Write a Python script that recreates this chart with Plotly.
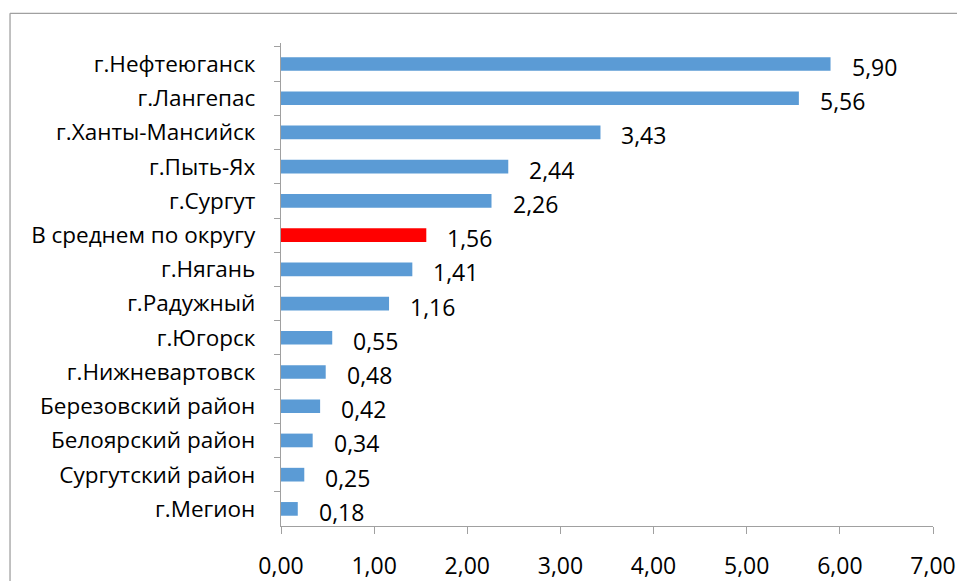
import plotly.graph_objects as go

categories = ["г.Нефтеюганск", "г.Лангепас", "г.Ханты-Мансийск", "г.Пыть-Ях", "г.Сургут",
              "В среднем по округу", "г.Нягань", "г.Радужный", "г.Югорск", "г.Нижневартовск",
              "Березовский район", "Белоярский район", "Сургутский район", "г.Мегион"]
values = [5.90, 5.56, 3.43, 2.44, 2.26, 1.56, 1.41, 1.16, 0.55, 0.48, 0.42, 0.34, 0.25, 0.18]
tick_vals = [0, 1, 2, 3, 4, 5, 6, 7]
tick_text = ["0,00", "1,00", "2,00", "3,00", "4,00", "5,00", "6,00", "7,00"]

highlight = "В среднем по округу"
colors = ["#ff0000" if c == highlight else "#5b9bd5" for c in categories]
labels = [f"{v:.2f}".replace(".", ",") for v in values]

FONT = "Open Sans"

fig = go.Figure(go.Bar(
    x=values, y=categories, orientation="h",
    marker=dict(color=colors, line=dict(width=0)),
    width=0.4,
    hoverinfo="skip",
))

for c, v, t in zip(categories, values, labels):
    fig.add_annotation(x=v, y=c, text=t, showarrow=False, xanchor="left",
                       xshift=19, yshift=-3,
                       font=dict(family=FONT, size=23, color="#000000"))

# chart-area border (only its left and top edges fall inside the picture)
fig.add_shape(type="line", xref="paper", yref="paper",
              x0=-0.4156, y0=-0.2, x1=-0.4156, y1=1.0615,
              line=dict(color="#a0a0a0", width=1.3), layer="below")
fig.add_shape(type="line", xref="paper", yref="paper",
              x0=-0.4156, y0=1.0615, x1=1.2, y1=1.0615,
              line=dict(color="#a0a0a0", width=1.3), layer="below")

fig.update_layout(
    width=957, height=581,
    margin=dict(l=281, r=24, t=43, b=55, autoexpand=False),
    paper_bgcolor="white", plot_bgcolor="white",
    showlegend=False,
    bargap=0.6,
    xaxis=dict(range=[0, 7], tickvals=tick_vals, ticktext=tick_text,
               showgrid=False, zeroline=False, showline=True,
               linecolor="#a0a0a0", linewidth=1.3,
               ticks="outside", ticklen=7, tickcolor="#a0a0a0",
               ticklabelstandoff=12, automargin=False,
               tickfont=dict(family=FONT, size=23, color="#000000")),
    yaxis=dict(categoryorder="array", categoryarray=categories, autorange="reversed",
               showgrid=False, zeroline=False, showline=True,
               linecolor="#a0a0a0", linewidth=1.3,
               ticks="outside", ticklen=6, tickcolor="#a0a0a0",
               tickson="boundaries", ticklabelstandoff=20, automargin=False,
               tickfont=dict(family=FONT, size=22.5, color="#000000")),
)

fig.write_html("out.html",
               config={"displayModeBar": False},
               post_script="document.documentElement.style.overflow='hidden';"
                           "document.body.style.margin='0';")
